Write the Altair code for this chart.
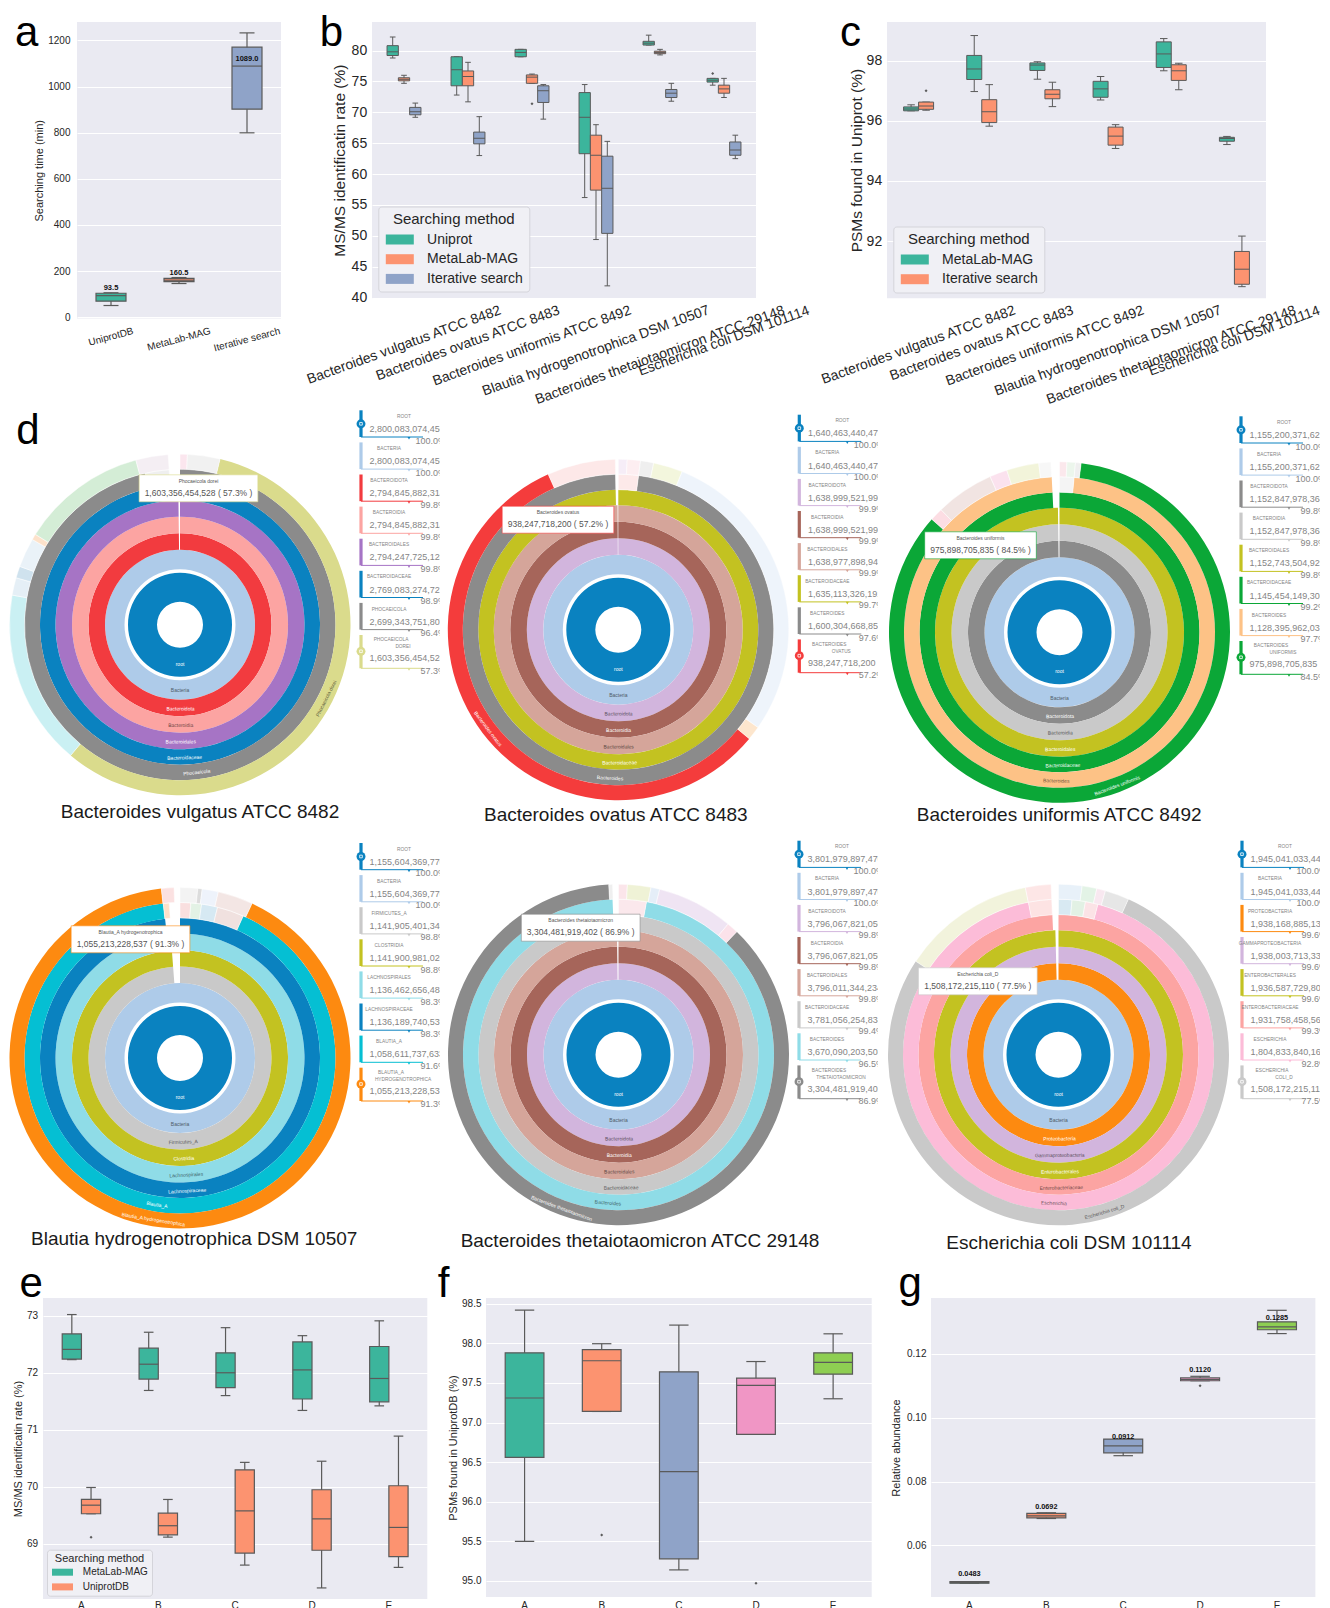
import math
import altair as alt
import pandas as pd

FONT = "Liberation Sans"
BG = "#eaeaf2"
EDGE = "#5a5a5a"
INK = "#262626"
TEAL, ORANGE, BLUE, PINK, LIME = "#3cb59c", "#fc9370", "#8fa3c8", "#f096c5", "#8ece52"

# ---------------- a: searching time ----------------
a_methods = ["UniprotDB", "MetaLab-MAG", "Iterative search"]
a_lo = [50.7, 146.0, 799.6]
a_q1 = [69.4, 154.0, 902.0]
a_med = [93.5, 160.5, 1089.0]
a_q3 = [104.0, 168.0, 1171.0]
a_hi = [106.0, 172.0, 1233.0]

# ---------------- b / c: six strains ----------------
strains = ["Bacteroides vulgatus ATCC 8482", "Bacteroides ovatus ATCC 8483",
           "Bacteroides uniformis ATCC 8492", "Blautia hydrogenotrophica DSM 10507",
           "Bacteroides thetaiotaomicron ATCC 29148", "Escherichia coli DSM 101114"]

b_methods = ["Uniprot", "MetaLab-MAG", "Iterative search"]
# (lower whisker, q1, median, q3, upper whisker)
b_uniprot = [(78.8, 79.2, 79.8, 80.8, 82.2), (72.8, 74.3, 76.9, 79.0, 79.0),
             (79.0, 79.0, 79.7, 80.2, 80.2), (56.2, 63.3, 69.2, 73.2, 74.5),
             (80.9, 80.9, 81.2, 81.5, 82.5), (74.4, 74.9, 75.2, 75.5, 75.5)]
b_metalab = [(74.7, 75.1, 75.35, 75.6, 76.0), (71.7, 74.3, 75.8, 76.7, 78.1),
             (74.7, 74.7, 75.7, 76.06, 76.2), (49.4, 57.4, 63.05, 66.3, 68.0),
             (79.3, 79.5, 79.7, 79.9, 80.2), (72.4, 73.1, 73.8, 74.4, 75.5)]
b_iterative = [(69.2, 69.6, 70.1, 70.8, 71.5), (63.0, 64.9, 65.8, 66.8, 69.3),
               (68.9, 71.6, 73.5, 74.3, 74.5), (41.9, 50.4, 57.7, 62.9, 65.3),
               (71.8, 72.4, 73.1, 73.7, 74.7), (62.5, 63.05, 63.9, 65.2, 66.3)]
b_fliers = [(strains[5], "Uniprot", 76.3), (strains[2], "MetaLab-MAG", 71.4)]

c_methods = ["MetaLab-MAG", "Iterative search"]
c_metalab = [(96.33, 96.33, 96.39, 96.46, 96.53), (96.97, 97.37, 97.72, 98.17, 98.83),
             (97.38, 97.67, 97.85, 97.92, 97.96), (96.69, 96.78, 97.06, 97.31, 97.47),
             (97.66, 97.77, 98.22, 98.62, 98.73), (95.21, 95.32, 95.41, 95.45, 95.48)]
c_iterative = [(96.35, 96.38, 96.49, 96.62, 96.62), (95.82, 95.94, 96.30, 96.70, 97.20),
               (96.47, 96.73, 96.88, 97.03, 97.28), (95.08, 95.19, 95.49, 95.79, 95.87),
               (97.03, 97.34, 97.66, 97.86, 97.91), (90.49, 90.57, 91.07, 91.66, 92.17)]
c_fliers = [(strains[0], "Iterative search", 97.0)]

# ---------------- e / f / g: samples A-E ----------------
samples = ["A", "B", "C", "D", "E"]
e_methods = ["MetaLab-MAG", "UniprotDB"]
e_metalab = [(72.23, 72.24, 72.41, 72.68, 73.02), (71.69, 71.89, 72.15, 72.43, 72.71),
             (71.60, 71.74, 72.00, 72.35, 72.79), (71.34, 71.54, 72.05, 72.54, 72.65),
             (71.42, 71.49, 71.90, 72.46, 72.91)]
e_uniprot = [(69.53, 69.53, 69.68, 69.78, 69.99), (69.12, 69.16, 69.32, 69.54, 69.78),
             (68.63, 68.84, 69.58, 70.30, 70.43), (68.23, 68.89, 69.44, 69.95, 70.45),
             (68.59, 68.78, 69.29, 70.02, 70.89)]
e_fliers = [("A", "UniprotDB", 69.12)]

f_psm = [(95.50, 96.56, 97.31, 97.88, 98.42), (97.14, 97.14, 97.78, 97.92, 97.995),
         (95.14, 95.28, 96.38, 97.64, 98.23), (96.85, 96.85, 97.47, 97.56, 97.77),
         (97.30, 97.61, 97.76, 97.88, 98.12)]
f_fliers = [("B", 95.58), ("D", 94.97)]

g_abund = [(0.0481, 0.0481, 0.0483, 0.0486, 0.0486), (0.0684, 0.0686, 0.0692, 0.0700, 0.0702),
           (0.0881, 0.0890, 0.0912, 0.0933, 0.0933), (0.1116, 0.1116, 0.1120, 0.1125, 0.1130),
           (0.1264, 0.1276, 0.1285, 0.1301, 0.1337)]
g_fliers = [("D", 0.1100)]

# ---------------- d: taxonomic sunbursts ----------------
ROOT_COLOR = "#0a82c0"
LIGHT_BLUE = "#aecbe9"

sb1_names = ["Bacteria", "Bacteroidota", "Bacteroidia", "Bacteroidales", "Bacteroidaceae", "Phocaeicola", "Phocaeicola dorei"]
sb1_counts = [2800083074456, 2800083074456, 2794845882314, 2794845882314, 2794247725128, 2769083274727, 2699343751807, 1603356454528]
sb1_pcts = [100.0, 100.0, 99.8, 99.8, 99.8, 98.9, 96.4, 57.3]
sb1_starts = [0, 0, 0, 0, 0, 0, 13.6]
sb1_colors = [LIGHT_BLUE, "#f23b3f", "#fca4a2", "#a674c5", "#0a82c0", "#8b8b8b", "#dadb8c"]
sb1_minor = [(6, 347.0, 356.0, "#efefef"), (7, 0, 2.5, "#fbe6ee"), (7, 2.5, 13.6, "#f1f1f1"),
             (7, 219.9, 280, "#caf0f3"), (7, 280, 286, "#e5eff6"), (7, 286, 290, "#cfe2ee"),
             (7, 290, 300, "#eaf2f8"), (7, 300, 302, "#fde2cb"), (7, 302, 345, "#d4edd6"),
             (7, 345, 356, "#f4eef3")]

sb2_names = ["Bacteria", "Bacteroidota", "Bacteroidia", "Bacteroidales", "Bacteroidaceae", "Bacteroides", "Bacteroides ovatus"]
sb2_counts = [1640463440478, 1640463440478, 1638999521998, 1638999521998, 1638977898948, 1635113326191, 1600304668856, 938247718200]
sb2_pcts = [100.0, 100.0, 99.9, 99.9, 99.9, 99.7, 97.6, 57.2]
sb2_starts = [0, 0, 0, 0, 0, 7.5, 129.8]
sb2_colors = [LIGHT_BLUE, "#d2b5dd", "#a6655a", "#d5a59a", "#c3c221", "#8b8b8b", "#f43c3c"]
sb2_minor = [(6, 0, 7.5, "#fde9e9"), (7, 0, 3, "#f6edf7"), (7, 3, 7.5, "#fdeef1"),
             (7, 7.5, 12, "#efefef"), (7, 12, 22, "#f3f6dd"), (7, 22, 125, "#eef4fb"),
             (7, 125, 129.8, "#fde6cd"), (7, 335.7, 359, "#fde8e8")]

sb3_names = ["Bacteria", "Bacteroidota", "Bacteroidia", "Bacteroidales", "Bacteroidaceae", "Bacteroides", "Bacteroides uniformis"]
sb3_counts = [1155200371621, 1155200371621, 1152847978364, 1152847978364, 1152743504929, 1145454149306, 1128395962032, 975898705835]
sb3_pcts = [100.0, 100.0, 99.8, 99.8, 99.8, 99.2, 97.7, 84.5]
sb3_starts = [0, 0, 0, 0, 0, 5.4, 7.3]
sb3_colors = [LIGHT_BLUE, "#8b8b8b", "#c9c9c9", "#c3c221", "#0ba737", "#fdc286", "#0ba737"]
sb3_minor = [(6, 0, 5.4, "#f4f4f4"), (7, 0, 2.5, "#fbe8ec"), (7, 2.5, 5.4, "#ecf6ec"),
             (7, 5.4, 7.3, "#efefef"), (7, 311.5, 316, "#fcdde3"), (7, 316, 336, "#f1e4e2"),
             (7, 336, 342, "#fbe2ee"), (7, 342, 353, "#f2f4da"), (7, 353, 357.1, "#f7f7f7")]

sb4_names = ["Bacteria", "Firmicutes_A", "Clostridia", "Lachnospirales", "Lachnospiraceae", "Blautia_A", "Blautia_A hydrogenotrophica"]
sb4_counts = [1155604369770, 1155604369770, 1141905401346, 1141900981026, 1136462656484, 1136189740539, 1058611737633, 1055213228537]
sb4_pcts = [100.0, 100.0, 98.8, 98.8, 98.3, 98.3, 91.6, 91.3]
sb4_starts = [0, 0, 0, 0, 0, 24.0, 25.0]
sb4_colors = [LIGHT_BLUE, "#c9c9c9", "#c3c221", "#8fdce7", "#0a82c0", "#05bfd3", "#fd8a10"]
sb4_minor = [(6, 0, 4, "#f9dfdf"), (6, 4, 8, "#e3f2e5"), (6, 8, 14, "#d6e9f3"), (6, 14, 24, "#f0e1df"),
             (6, 353.8, 356, "#fde1c9"), (7, 0, 6, "#f3f3f3"), (7, 6, 7.5, "#dcdcdc"),
             (7, 7.5, 13, "#eef3fb"), (7, 13, 25, "#f3e6e4"), (7, 353.7, 358, "#fbe1e1")]

sb5_names = ["Bacteria", "Bacteroidota", "Bacteroidia", "Bacteroidales", "Bacteroidaceae", "Bacteroides", "Bacteroides thetaiotaomicron"]
sb5_counts = [3801979897470, 3801979897470, 3796067821050, 3796067821050, 3796011344234, 3781056254834, 3670090203508, 3304481919402]
sb5_pcts = [100.0, 100.0, 99.8, 99.8, 99.8, 99.4, 96.5, 86.9]
sb5_starts = [0, 0, 0, 0, 0, 10.4, 43.9]
sb5_colors = [LIGHT_BLUE, "#d2b5dd", "#a6655a", "#d5a59a", "#c9c9c9", "#8fdce7", "#8b8b8b"]
sb5_minor = [(6, 0, 10.4, "#fbe8ec"), (7, 0, 3, "#fbe5ea"), (7, 3, 11, "#eff2d6"),
             (7, 11, 14, "#e5eef8"), (7, 14, 40, "#efe4f3"), (7, 40, 43.9, "#fbe2ea"),
             (7, 356.7, 358, "#efefef")]

sb6_names = ["Bacteria", "Proteobacteria", "Gammaproteobacteria", "Enterobacterales", "Enterobacteriaceae", "Escherichia", "Escherichia coli_D"]
sb6_counts = [1945041033440, 1945041033440, 1938168885137, 1938003713337, 1936587729804, 1931758458567, 1804833840167, 1508172215110]
sb6_pcts = [100.0, 100.0, 99.6, 99.6, 99.6, 99.3, 92.8, 77.5]
sb6_starts = [0, 0, 0, 0, 0, 14.7, 24.2]
sb6_colors = [LIGHT_BLUE, "#fd8a10", "#d2b5dd", "#c3c221", "#fca4a2", "#fcbcd8", "#c9c9c9"]
sb6_minor = [(6, 0, 5, "#d8e9f2"), (6, 5, 10, "#e2f1e4"), (6, 10, 14.7, "#fbe3e6"),
             (6, 348.8, 357.5, "#fde3e3"), (7, 0, 8, "#e8f1f9"), (7, 8, 13, "#e3f3e6"),
             (7, 13, 16, "#f8e8f0"), (7, 16, 24.2, "#e6e6e6"), (7, 303.2, 348.8, "#f2f3dc"),
             (7, 348.8, 357.5, "#fde6e6")]

# ---------------- helpers ----------------
_W = {ch: 0.556 for ch in "0123456789"}
_W.update({" ": .278, ",": .278, ".": .278, "(": .333, ")": .333, "%": .889, "-": .333, "_": .556, "/": .278})
_W.update(dict(A=.667, B=.667, C=.722, D=.722, E=.667, F=.611, G=.778, H=.722, I=.278, J=.5, K=.667,
               L=.556, M=.833, N=.722, O=.778, P=.667, Q=.778, R=.722, S=.667, T=.611, U=.722, V=.667,
               W=.944, X=.667, Y=.667, Z=.611))
_W.update(dict(a=.556, b=.556, c=.5, d=.556, e=.556, f=.278, g=.556, h=.556, i=.222, j=.222, k=.5,
               l=.222, m=.833, n=.556, o=.556, p=.556, q=.556, r=.333, s=.5, t=.278, u=.556, v=.5,
               w=.722, x=.5, y=.5, z=.5))


def text_width(s, size):
    return size * sum(_W.get(ch, 0.556) for ch in s)


_ONE = pd.DataFrame({"v": [0]})


def gap(w, h=1.0):
    return alt.Chart(_ONE).mark_point(size=0.01, opacity=0).encode(
        x=alt.value(w / 2), y=alt.value(h / 2)).properties(width=w, height=h)


def rows_from(groups, hue, tuples):
    return [dict(g=g, h=hue, lo=t[0], q1=t[1], med=t[2], q3=t[3], hi=t[4]) for g, t in zip(groups, tuples)]


def method_legend(x, y, title_fs, label_fs, sym_w, sym_h, pad, title_pad, row_pad, label_gap):
    hw = sym_w / sym_h
    path = f"M{-hw:.4f},-1H{hw:.4f}V1H{-hw:.4f}Z"
    sym_off = (sym_w - sym_h) / 2
    return alt.Legend(
        title="Searching method", orient="none", legendX=x, legendY=y, direction="vertical",
        titleFontSize=title_fs, titleFontWeight="normal", titleColor=INK, titleAnchor="middle",
        titleAlign="center", titlePadding=title_pad, labelFontSize=label_fs, labelColor=INK,
        symbolType=path, symbolSize=sym_h * sym_h, symbolStrokeWidth=0, symbolOffset=sym_off,
        labelOffset=sym_off + label_gap, rowPadding=row_pad, padding=pad,
        fillColor="#f0f0f5", strokeColor="#d4d4da", cornerRadius=3, symbolOpacity=1)


def box_panel(stats, fliers, groups, hues, colors, w, h, ydom, yticks, yfmt, pad, box_w, lw,
              tick_fs, ytitle, ytitle_fs, title_dx, letter, letter_xy, label_pad=5.5,
              legend=None, rotated=None, values=None, xlabel_pad=3.5):
    offset = hues is not None
    xscale = alt.Scale(domain=groups, paddingInner=pad, paddingOuter=pad / 2)
    if rotated is None:
        xaxis = alt.Axis(title=None, labelAngle=0, labelFontSize=tick_fs, labelColor=INK,
                         labelPadding=xlabel_pad, ticks=False, domain=False, grid=False)
    else:
        xaxis = None
    X = alt.X("g:N", sort=groups, scale=xscale, axis=xaxis)
    yscale = alt.Scale(domain=ydom, nice=False, zero=False)
    yaxis = alt.Axis(values=yticks, format=yfmt, title=ytitle, grid=True, gridColor="white",
                     gridWidth=1, domain=False, ticks=False, labelFontSize=tick_fs, labelColor=INK,
                     labelPadding=label_pad, titleFontSize=ytitle_fs, titleFontWeight="normal",
                     titleColor=INK, titleAngle=270, titleAlign="center", titleBaseline="middle",
                     titleX=title_dx, titleY=h / 2)

    def Y(f):
        return alt.Y(f, scale=yscale, axis=yaxis)

    enc = {"x": X}
    if offset:
        enc["xOffset"] = alt.XOffset("h:N", sort=hues,
                                     scale=alt.Scale(domain=hues, paddingInner=0, paddingOuter=0))
        color = alt.Color("h:N", sort=hues, scale=alt.Scale(domain=hues, range=colors), legend=legend)
    else:
        color = alt.Color("g:N", sort=groups, scale=alt.Scale(domain=groups, range=colors), legend=None)

    base = alt.Chart(stats)
    layers = [
        base.mark_rule(color=EDGE, strokeWidth=lw).encode(**enc, y=Y("lo:Q"), y2="hi:Q"),
        base.mark_tick(color=EDGE, thickness=lw, size=box_w / 2, opacity=1).encode(**enc, y=Y("lo:Q")),
        base.mark_tick(color=EDGE, thickness=lw, size=box_w / 2, opacity=1).encode(**enc, y=Y("hi:Q")),
        base.mark_bar(stroke=EDGE, strokeWidth=lw, opacity=1).encode(**enc, y=Y("q1:Q"), y2="q3:Q", color=color),
        base.mark_tick(color=EDGE, thickness=lw, size=box_w, opacity=1).encode(**enc, y=Y("med:Q")),
    ]
    if fliers is not None and len(fliers):
        layers.append(alt.Chart(fliers).mark_point(shape="diamond", filled=True, size=9, color=EDGE,
                                                   opacity=1).encode(**enc, y=Y("v:Q")))
    if values is not None:
        fmt, fs, dy = values
        layers.append(base.mark_text(baseline="bottom", dy=dy, fontSize=fs, fontWeight="bold",
                                     color="#111111").encode(x=X, y=Y("med:Q"),
                                                             text=alt.Text("med:Q", format=fmt)))
    if rotated is not None:
        ang, fs, lpad = rotated
        s, c = math.sin(math.radians(ang)), math.cos(math.radians(ang))
        lab = pd.DataFrame({"g": groups,
                            "ly": [h + lpad + (text_width(gname, fs) * s + 1.12 * fs * c) / 2 for gname in groups]})
        layers.append(alt.Chart(lab).mark_text(angle=360 - ang, fontSize=fs, color=INK, align="center",
                                               baseline="middle").encode(
            x=X, y=alt.Y("ly:Q", scale=None, axis=None), text="g:N"))
    layers.append(alt.Chart(pd.DataFrame({"t": [letter]})).mark_text(
        fontSize=42, color="black", align="center", baseline="alphabetic").encode(
        x=alt.value(letter_xy[0]), y=alt.value(letter_xy[1]), text="t:N"))
    return alt.layer(*layers).properties(width=w, height=h, view=alt.ViewBackground(fill=BG, strokeWidth=0))


# ---------------- sunburst + lineage ----------------
RINGS = [(23.0, 52.0), (55.5, 75.0), (75.0, 91.5), (91.5, 108.0), (108.0, 124.5),
         (124.5, 140.0), (140.0, 155.5), (155.5, 170.5)]
THETA = alt.Scale(domain=[0, 360], range=[0, 2 * math.pi])
RADIUS = alt.Scale(type="linear", domain=[0, 200], range=[0, 200], zero=True)


def label_ink(hexcol):
    r, g, b = (int(hexcol[i:i + 2], 16) for i in (1, 3, 5))
    lum = (0.299 * r + 0.587 * g + 0.114 * b) / 255
    if lum < 0.695:
        return "#ffffff"
    return "#{:02x}{:02x}{:02x}".format(int(r * 0.45), int(g * 0.45), int(b * 0.45))


def sunburst_chart(names, counts, pcts, starts, colors, minor, title, lay, letter=None):
    cx, cy = lay["center"]
    main = [dict(t0=0.0, t1=360.0, r0=RINGS[0][0], r1=RINGS[0][1], col=ROOT_COLOR)]
    labels = [dict(tm=180.0, rm=39.0, nm="root", tc="#ffffff", rot=0.0)]
    for j in range(7):
        t0 = float(starts[j])
        t1 = t0 + pcts[j + 1] * 3.6
        r0, r1 = RINGS[j + 1]
        main.append(dict(t0=t0, t1=t1, r0=r0, r1=r1, col=colors[j]))
        tm = (t0 + t1) / 2
        labels.append(dict(tm=tm, rm=(r0 + r1) / 2 + 0.5, nm=names[j], tc=label_ink(colors[j]),
                           rot=(tm - 180.0) % 360))
    small = [dict(t0=a, t1=b, r0=RINGS[lv][0], r1=RINGS[lv][1], col=c) for (lv, a, b, c) in minor]

    def arcs(df, **kw):
        return alt.Chart(pd.DataFrame(df)).mark_arc(**kw).encode(
            theta=alt.Theta("t0:Q", stack=None, scale=THETA), theta2="t1:Q",
            radius=alt.Radius("r1:Q", scale=RADIUS), radius2="r0:Q",
            color=alt.Color("col:N", scale=None), x=alt.value(cx), y=alt.value(cy))

    layers = [arcs(main), arcs(small, stroke="white", strokeWidth=0.5)]
    layers.append(alt.Chart(pd.DataFrame(labels)).mark_text(fontSize=5, align="center", baseline="middle").encode(
        theta=alt.Theta("tm:Q", stack=None, scale=THETA), radius=alt.Radius("rm:Q", scale=RADIUS),
        text="nm:N", angle=alt.Angle("rot:Q", scale=None), color=alt.Color("tc:N", scale=None),
        x=alt.value(cx), y=alt.value(cy)))

    # hover card for the deepest rank
    tip_val = f"{counts[7]:,} ( {pcts[7]:.1f}% )"
    tx, ty = lay["tip"]
    tw = text_width(tip_val, 8.5) + 11
    x0, y0 = tx - tw / 2, ty - 13.5
    card = pd.DataFrame({"nm": [names[6]], "val": [tip_val]})
    layers.append(alt.Chart(card).mark_rect(fill="white", stroke=colors[6], strokeWidth=1, strokeOpacity=0.6).encode(
        x=alt.value(x0), x2=alt.value(x0 + tw), y=alt.value(y0), y2=alt.value(y0 + 27)))
    layers.append(alt.Chart(card).mark_text(fontSize=5, color="#555555", baseline="middle").encode(
        x=alt.value(tx), y=alt.value(y0 + 6.2), text="nm:N"))
    layers.append(alt.Chart(card).mark_text(fontSize=8.5, color="#555555", baseline="middle").encode(
        x=alt.value(tx), y=alt.value(y0 + 17.8), text="val:N"))
    # strain caption
    layers.append(alt.Chart(pd.DataFrame({"t": [title]})).mark_text(fontSize=19, color="#1a1a1a", baseline="middle").encode(
        x=alt.value(lay["title"][0]), y=alt.value(lay["title"][1]), text="t:N"))
    if letter:
        layers.append(alt.Chart(pd.DataFrame({"t": [letter]})).mark_text(
            fontSize=42, color="black", align="center", baseline="alphabetic").encode(
            x=alt.value(23), y=alt.value(35.7), text="t:N"))
    return alt.layer(*layers).properties(width=350, height=410)


def lineage_chart(names, counts, pcts, colors, lay):
    bx, top0 = lay["bx"], lay["top"]
    ranks = ["root"] + list(names)
    cols = [ROOT_COLOR] + list(colors)
    step = 32.1
    entries, words = [], []
    for i in range(8):
        top = top0 + step * i
        last = i == 7
        y1 = top + (33.3 if last else 26.7)
        entries.append(dict(y0=top, y1=y1, yt=y1 + 1.2, c=cols[i],
                            yn=top + (23.3 if last else 18.7), yp=top + (36.0 if last else 30.2),
                            num=f"{counts[i]:,}", pct=f"{pcts[i]:.1f}%"))
        nm = ranks[i].upper()
        if last and " " in nm:
            first, second = nm.split(" ", 1)
            words.append(dict(x=bx + 30, y=top + 5.3, t=first))
            words.append(dict(x=bx + 42, y=top + 12.3, t=second))
        else:
            words.append(dict(x=bx + (43 if i == 0 else 28), y=top + 6.6, t=nm))
    marks = pd.DataFrame([dict(y=top0 + 13.5, c=cols[0]), dict(y=top0 + step * 7 + 16.3, c=cols[7])])
    ent = pd.DataFrame(entries)

    def Ypx(f):
        return alt.Y(f, scale=None, axis=None)

    cid = alt.Color("c:N", scale=None)
    layers = [
        alt.Chart(ent).mark_rule(strokeWidth=3.2).encode(x=alt.value(bx), y=Ypx("y0:Q"), y2="y1:Q", color=cid),
        alt.Chart(ent).mark_rule(strokeWidth=1).encode(x=alt.value(bx), x2=alt.value(bx + 62), y=Ypx("y1:Q"), color=cid),
        alt.Chart(ent).mark_point(shape="triangle-down", filled=True, size=9, opacity=1).encode(
            x=alt.value(bx + 48), y=Ypx("yt:Q"), color=cid),
        alt.Chart(pd.DataFrame(words)).mark_text(fontSize=4.8, color="#858585", baseline="middle").encode(
            x=alt.X("x:Q", scale=None, axis=None), y=Ypx("y:Q"), text="t:N"),
        alt.Chart(ent).mark_text(fontSize=9, align="left", baseline="middle", color="#858585", clip=True).encode(
            x=alt.value(bx + 8.6), y=Ypx("yn:Q"), text="num:N"),
        alt.Chart(ent).mark_text(fontSize=9, align="right", baseline="middle", color="#858585", clip=True).encode(
            x=alt.value(bx + 85), y=Ypx("yp:Q"), text="pct:N"),
        alt.Chart(marks).mark_point(shape="circle", filled=True, size=80, opacity=1).encode(
            x=alt.value(bx), y=Ypx("y:Q"), color=cid),
        alt.Chart(marks).mark_point(shape="square", filled=False, size=7, color="white", strokeWidth=0.9,
                                    opacity=0.9).encode(x=alt.value(bx), y=Ypx("y:Q")),
    ]
    return alt.layer(*layers).properties(width=84, height=280)


# ---------------- panels ----------------
a_df = pd.DataFrame([dict(g=g, h=g, lo=l, q1=q1, med=m, q3=q3, hi=hi)
                     for g, l, q1, m, q3, hi in zip(a_methods, a_lo, a_q1, a_med, a_q3, a_hi)])
pa = box_panel(a_df, None, a_methods, None, [TEAL, ORANGE, BLUE], 204, 296.5, [-5.6, 1280.2],
               [0, 200, 400, 600, 800, 1000, 1200], "d", 1 - 30 / 68, 30, 1.2, 10,
               "Searching time (min)", 11, -38, "a", (-50.3, 23.5), label_pad=7,
               rotated=(15, 10, 7), values=(".1f", 7.5, -3.5))

b_df = pd.DataFrame(rows_from(strains, b_methods[0], b_uniprot) + rows_from(strains, b_methods[1], b_metalab)
                    + rows_from(strains, b_methods[2], b_iterative))
b_fl = pd.DataFrame([dict(g=g, h=hh, v=v) for g, hh, v in b_fliers])
pb = box_panel(b_df, b_fl, strains, b_methods, [TEAL, ORANGE, BLUE], 384, 276.2, [39.9, 84.63],
               list(range(40, 81, 5)), "d", 0.47, 11.3, 1.0, 14,
               "MS/MS identificatin rate (%)", 15.5, -32.7, "b", (-40.7, 23.5), label_pad=5.3,
               legend=method_legend(6.3, 184.5, 15, 14, 28, 10, 5.5, 5.5, 5.7, 11.3),
               rotated=(20, 14, 4.3))

c_df = pd.DataFrame(rows_from(strains, c_methods[0], c_metalab) + rows_from(strains, c_methods[1], c_iterative))
c_fl = pd.DataFrame([dict(g=g, h=hh, v=v) for g, hh, v in c_fliers])
pc = box_panel(c_df, c_fl, strains, c_methods, [TEAL, ORANGE], 379, 276.2, [90.107, 99.28],
               [92, 94, 96, 98], "d", 0.525, 15, 1.0, 14,
               "PSMs found in Uniprot (%)", 15.5, -30.3, "c", (-36.5, 23.5), label_pad=5.3,
               legend=method_legend(6.3, 204.5, 15, 14, 28, 10, 5.5, 5.5, 5.7, 11.3),
               rotated=(20, 14, 4.3))

e_df = pd.DataFrame(rows_from(samples, e_methods[0], e_metalab) + rows_from(samples, e_methods[1], e_uniprot))
e_fl = pd.DataFrame([dict(g=g, h=hh, v=v) for g, hh, v in e_fliers])
pe = box_panel(e_df, e_fl, samples, e_methods, [TEAL, ORANGE], 384.3, 301, [68.036, 73.31],
               [69, 70, 71, 72, 73], "d", 0.5, 19.25, 1.2, 10,
               "MS/MS identificatin rate (%)", 11, -24.4, "e", (-11.9, -1), label_pad=5.4,
               legend=method_legend(4, 251.7, 11, 10, 21, 7, 3.5, 3, 4.7, 8.3), xlabel_pad=1.5)

f_df = pd.DataFrame(rows_from(samples, None, f_psm)).assign(h=lambda d: d["g"])
f_fl = pd.DataFrame([dict(g=g, h=g, v=v) for g, v in f_fliers])
pf = box_panel(f_df, f_fl, samples, None, [TEAL, ORANGE, BLUE, PINK, LIME], 385.7, 299, [94.798, 98.572],
               [95.0, 95.5, 96.0, 96.5, 97.0, 97.5, 98.0, 98.5], ".1f", 0.498, 38.7, 1.2, 10,
               "PSMs found in UniprotDB (%)", 11, -32.6, "f", (-42.3, -1), label_pad=5)

g_df = pd.DataFrame(rows_from(samples, None, g_abund)).assign(h=lambda d: d["g"])
g_fl = pd.DataFrame([dict(g=g, h=g, v=v) for g, v in g_fliers])
pg = box_panel(g_df, g_fl, samples, None, [TEAL, ORANGE, BLUE, PINK, LIME], 384.4, 299, [0.04378, 0.13756],
               [0.06, 0.08, 0.10, 0.12], ".2f", 0.493, 39, 1.2, 10,
               "Relative abundance", 11, -34.3, "g", (-20.8, -1), label_pad=5,
               values=(".4f", 7.3, -5))

SB_LAYOUT = [
    dict(center=(175, 216.7), title=(195, 404.3), tip=(193.5, 80.3), bx=5, top=2.3),
    dict(center=(175.3, 221.7), title=(172.8, 406.7), tip=(115, 111.7), bx=5.3, top=6.7),
    dict(center=(174.5, 224.3), title=(174.2, 406.7), tip=(95.5, 137.3), bx=5, top=8.3),
    dict(center=(175, 219), title=(189.2, 399.7), tip=(125.5, 100.3), bx=5, top=4),
    dict(center=(175.5, 215.7), title=(197, 402.3), tip=(137.7, 88.7), bx=5, top=1.7),
    dict(center=(173.5, 215.7), title=(184, 404), tip=(92.8, 142.3), bx=6, top=1.7),
]
SB_DATA = [
    (sb1_names, sb1_counts, sb1_pcts, sb1_starts, sb1_colors, sb1_minor),
    (sb2_names, sb2_counts, sb2_pcts, sb2_starts, sb2_colors, sb2_minor),
    (sb3_names, sb3_counts, sb3_pcts, sb3_starts, sb3_colors, sb3_minor),
    (sb4_names, sb4_counts, sb4_pcts, sb4_starts, sb4_colors, sb4_minor),
    (sb5_names, sb5_counts, sb5_pcts, sb5_starts, sb5_colors, sb5_minor),
    (sb6_names, sb6_counts, sb6_pcts, sb6_starts, sb6_colors, sb6_minor),
]
suns, lins = [], []
for k, (nm, cnt, pct, st, col, mn) in enumerate(SB_DATA):
    suns.append(sunburst_chart(nm, cnt, pct, st, col, mn, strains[k], SB_LAYOUT[k], letter="d" if k == 0 else None))
    lins.append(lineage_chart(nm, cnt, pct, col, SB_LAYOUT[k]))

# ---------------- page layout ----------------
def row(*cells):
    return alt.hconcat(*cells, spacing=0, bounds="flush").resolve_scale(
        color="independent", xOffset="independent")


row1 = row(gap(77, 383.5), pa, gap(91), pb, gap(131), pc)
row2 = row(gap(5, 431), suns[0], gap(1), lins[0], gap(3), suns[1], gap(1), lins[1], gap(7), suns[2], gap(1), lins[2])
row3 = row(gap(5, 424), suns[3], gap(1), lins[3], gap(3), suns[4], gap(1), lins[4], gap(7), suns[5], gap(1), lins[5])
row4 = row(gap(42.7), pe, gap(57.3), pf, gap(58.3), pg)

chart = alt.vconcat(row1, row2, row3, row4, spacing=0, bounds="full",
                    padding={"top": 11, "bottom": 0, "left": 0, "right": 0}).resolve_scale(
    color="independent", xOffset="independent").configure(font=FONT).configure_view(strokeWidth=0)

chart.save("out.html", embed_options={"renderer": "svg", "actions": False})
